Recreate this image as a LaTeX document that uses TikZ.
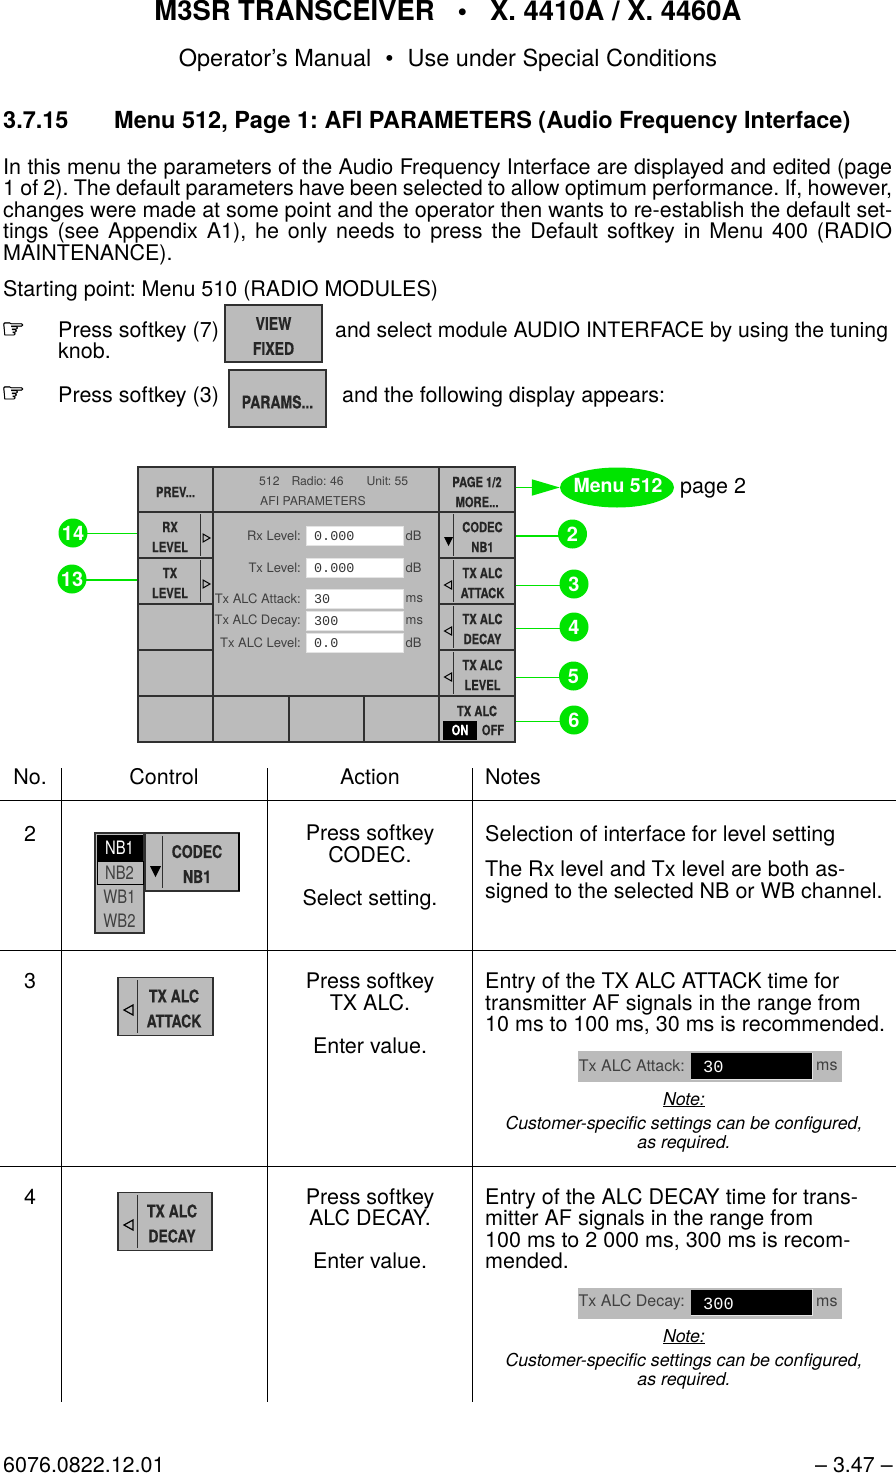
\documentclass[tikz,border=0pt]{standalone}
\usepackage{fontspec}
\setmainfont{TeX Gyre Heros}
\newfontfamily\keyfont[FakeStretch=0.8,BoldFeatures={FakeBold=0.5}]{TeX Gyre Heros}
\newfontfamily\screenmono{Liberation Mono}
\newfontfamily\symfont[FakeBold=1.5]{DejaVu Sans}
\usetikzlibrary{arrows.meta,shapes.geometric}
\definecolor{keygray}{HTML}{BBBBBB}
\definecolor{keyedge}{HTML}{303030}
\definecolor{keylight}{HTML}{E4E4E4}
\definecolor{signgreen}{HTML}{00E400}
\def\fsize#1#2{\fontsize{#1}{#2}\selectfont}
\tikzset{
	softkey/.style={draw=keyedge, fill=keygray, line width=1.2pt, inner sep=0pt, minimum width=#1, minimum height=46pt,
		path picture={\draw[keylight, line width=1.6pt] (path picture bounding box.south west) -- (path picture bounding box.north west) -- (path picture bounding box.north east);}},
	softkey/.default=76pt,
	keylabel/.style={font=\keyfont\bfseries\fsize{14}{20}, align=center, inner sep=0pt, text=black!85},
	biglabel/.style={font=\keyfont\bfseries\fsize{17.5}{25}, align=center, inner sep=0pt, text=black!85},
	keydiv/.style={draw=keyedge, line width=0.9pt},
	openmark/.style={draw=black, line width=1pt},
	screentxt/.style={font=\fsize{13}{16}, inner sep=0pt, text=black!75},
	fieldbox/.style={draw=keylight, fill=white, line width=1pt, inner sep=0pt, minimum width=97pt, minimum height=19pt,
		path picture={\draw[black!65, line width=1.6pt] (path picture bounding box.south west) -- (path picture bounding box.north west) -- (path picture bounding box.north east);}},
	fieldval/.style={font=\screenmono\fsize{13.4}{16}, inner sep=0pt, anchor=west, text=black!80},
	stripfield/.style={fill=black, inner sep=0pt, minimum width=121pt, minimum height=26pt},
	conn/.style={draw=signgreen, line width=1.1pt},
	badge/.style={circle, fill=signgreen, inner sep=0pt, minimum size=29pt, text=white, font=\bfseries\fsize{20}{20}},
	bodytxt/.style={font=\fsize{21.5}{21.5}, anchor=base west, align=left, inner sep=0pt},
	ctrtxt/.style={font=\fsize{21.5}{21.5}, anchor=base, align=center, inner sep=0pt},
	notetxt/.style={font=\itshape\fsize{17.75}{18.2}, anchor=base, align=center, inner sep=0pt},
	rowrule/.style={line width=0.9pt},
}
\begin{document}
\frenchspacing
\begin{tikzpicture}[x=1pt, y=-1pt]
	\useasboundingbox (0,0) rectangle (896,1474);
	
	%%%%% HEADER %%%%%
	\node[font=\bfseries\fsize{27.4}{27.4}, anchor=base, inner sep=0pt] (title) at (448,21) {M3SR TRANSCEIVER\hspace{23pt}•\hspace{23pt}X. 4410A / X. 4460A};
	\node[font=\fsize{23.5}{23.5}, anchor=base, inner sep=0pt] (subtitle) at (448,66.5) {Operator’s Manual\hspace{14pt}•\hspace{14pt}Use under Special Conditions};
	\node[font=\bfseries\fsize{23.5}{23.5}, anchor=base west, inner sep=0pt] (secno) at (3,128.5) {3.7.15};
	\node[font=\bfseries\fsize{23.5}{23.5}, anchor=base west, inner sep=0pt] (sechead) at (114,128.5) {Menu 512, Page 1: AFI PARAMETERS (Audio Frequency Interface)};
	
	\node[bodytxt, text width=889pt, align=justify] (intro) at (3,174.5) {\sloppy In this menu the parameters of the Audio Frequency Interface are displayed and edited (page\linebreak
		1 of 2). The default parameters have been selected to allow optimum performance. If, however,\linebreak
		changes were made at some point and the operator then wants to re-establish the default set-\linebreak
		tings (see Appendix A1), he only needs to press the Default softkey in Menu 400 (RADIO\linebreak
		MAINTENANCE).};
	\node[bodytxt] (startpt) at (3,296) {Starting point: Menu 510 (RADIO MODULES)};
	
	\node[font=\symfont\fsize{27}{27}, anchor=base west, inner sep=0pt] (handa) at (1,338) {☞};
	\node[bodytxt] (stepa) at (58,337) {Press softkey (7)};
	\node[bodytxt, font=\fsize{21.25}{21.5}] (stepaend) at (335,337) {and select module AUDIO INTERFACE by using the tuning};
	\node[bodytxt] (knob) at (58,358) {knob.};
	\node[softkey=97pt, minimum height=57pt] (keyview) at (273.5,333.5) {};
	\node[biglabel] (labview) at (273.5,336) {VIEW\\FIXED};
	
	\node[font=\symfont\fsize{27}{27}, anchor=base west, inner sep=0pt] (handb) at (1,402) {☞};
	\node[bodytxt] (stepb) at (58,402) {Press softkey (3)};
	\node[bodytxt] (stepbend) at (342,402) {and the following display appears:};
	\node[softkey=97pt, minimum height=57pt] (keyparams) at (277.5,398.5) {};
	\node[biglabel] (labparams) at (277.5,402) {PARAMS...};
	
	%%%%% PANEL %%%%%
	\node[softkey=75pt, minimum height=45pt] (keyprev) at (175.5,489.5) {};
	\node[keylabel] (labprev) at (175.5,492) {PREV...};
	\node[softkey=226pt, minimum height=45pt] (display) at (326,489.5) {};
	\node[screentxt, font=\fsize{12.2}{16}, anchor=base west] (dispa) at (259,485) {512\hspace{12pt}Radio: 46\hspace{23pt}Unit: 55};
	\node[screentxt, font=\fsize{12.2}{16}, anchor=base west] (dispb) at (260,505) {AFI PARAMETERS};
	\node[softkey=76pt, minimum height=45pt] (keypage) at (477,489.5) {};
	\node[keylabel] (labpage) at (477,492) {PAGE 1/2\\MORE...};
	
	\node[softkey=226pt, minimum height=184pt] (midarea) at (326,604) {};
	
	\foreach \nm/\cy/\lab in {rx/535/{RX\\LEVEL},tx/581/{TX\\LEVEL}}{
		\node[softkey=75pt] (key\nm) at (175.5,\cy) {};
		\node[keylabel] (lab\nm) at (170,\cy+2) {\lab};
		\draw[keydiv] (200.5,\cy-21) -- (200.5,\cy+21);
		\draw[openmark] (210,\cy+3) -- (203,\cy-1) -- (203,\cy+7) -- cycle;
	}
	\node[softkey=75pt] (keyempa) at (175.5,627) {};
	\node[softkey=75pt] (keyempb) at (175.5,673) {};
	
	\foreach \nm/\cy/\lab in {codec/535/{CODEC\\NB1},attack/581/{TX ALC\\ATTACK},decay/627/{TX ALC\\DECAY},level/673/{TX ALC\\LEVEL}}{
		\node[softkey] (key\nm) at (477,\cy) {};
		\node[keylabel] (lab\nm) at (482.5,\cy+2) {\lab};
		\draw[keydiv] (453.5,\cy-21) -- (453.5,\cy+21);
	}
	\fill[black] (444,537) -- (453,537) -- (448.5,546) -- cycle;
	\foreach \cy in {581,627,673}
		\draw[openmark] (444.5,\cy+4) -- (451.5,\cy) -- (451.5,\cy+8) -- cycle;
	
	\foreach \nm/\cx/\bw in {a/175.5/75,b/251/76,c/326.5/75,d/401.5/75}
		\node[softkey=\bw pt] (keybot\nm) at (\cx,719) {};
	\node[softkey] (keyonoff) at (477,719) {};
	\node[keylabel] (labonoff) at (477,711) {TX ALC};
	\node[fill=black, text=white, font=\keyfont\bfseries\fsize{14}{14}, inner sep=0pt, minimum width=34pt, minimum height=19pt] (onbox) at (460,730) {ON};
	\node[keylabel] (laboff) at (493,730) {OFF};
	
	\foreach \nm/\cy/\lab/\val/\un in {rxl/535.5/Rx Level:/0.000/dB,txl/567.5/Tx Level:/0.000/dB,att/599/Tx ALC Attack:/30/ms,dec/621/Tx ALC Decay:/300/ms,lev/642.5/Tx ALC Level:/0.0/dB}{
		\node[fieldbox] (field\nm) at (354.5,\cy) {};
		\node[screentxt, anchor=east] (name\nm) at (301,\cy) {\lab};
		\node[fieldval] (val\nm) at (314,\cy+0.5) {\val};
		\node[screentxt, anchor=west] (unit\nm) at (405.5,\cy) {\un};
	}
	
	%%%%% SIGNS %%%%%
	\node[ellipse, fill=signgreen, inner sep=0pt, minimum width=114pt, minimum height=40pt] (menu) at (617,487.5) {};
	\node[text=white, font=\bfseries\fsize{19.5}{19.5}, inner sep=0pt] (menulab) at (618,485) {Menu 512};
	\node[font=\fsize{21.5}{21.5}, anchor=base west, inner sep=0pt] (pagetwo) at (680,493) {page 2};
	\draw[conn, line width=1.8pt, -{Triangle[length=28pt, width=16pt]}] (menu -| keypage.east) -- (menu);
	
	\foreach \nm/\cx/\cy/\ly/\num/\tgt in {b/572.5/534/536/2/keycodec.east,c/574/584/585.5/3/keyattack.east,d/574/627/628.5/4/keydecay.east,e/573.5/676/677.5/5/keylevel.east,f/574/720/721.5/6/keyonoff.east,n/73/533/533.5/14/keyrx.west,m/72/579/580/13/keytx.west}{
		\coordinate (tip\nm) at (\cx,\ly);
		\draw[conn] (tip\nm) -- (tip\nm -| \tgt);
		\node[badge] (sign\nm) at (\cx,\cy) {\num};
	}
	
	%%%%% TABLE %%%%%
	\node[ctrtxt] (hdno) at (30,784) {No.};
	\node[ctrtxt] (hdctl) at (164,784) {Control};
	\node[ctrtxt] (hdact) at (370,784) {Action};
	\node[bodytxt] (hdnot) at (485,784) {Notes};
	
	\foreach \xx in {61,267,472}
		\draw[rowrule] (\xx,768) -- (\xx,1402);
	\draw[rowrule, line width=1.3pt] (0,800.5) -- (896,800.5);
	\draw[rowrule] (0,950) -- (896,950);
	\draw[rowrule] (0,1166) -- (896,1166);
	
	% row 2
	\node[ctrtxt] (nob) at (30,841) {2};
	\node[ctrtxt] (actb) at (370,905) {Press softkey\\CODEC.\\[21.5pt]Select setting.};
	\node[bodytxt] (notba) at (485,841) {Selection of interface for level setting};
	\node[bodytxt] (notbb) at (485,898) {The Rx level and Tx level are both as-\\signed to the selected NB or WB channel.};
	
	\node[softkey=49pt, minimum height=100pt] (codlist) at (119.5,883) {};
	\fill[black] (96.5,835) rectangle (143,861);
	\draw[black, line width=1pt] (97,861) rectangle (143,884);
	\foreach \nm/\cy/\lab/\col in {a/848/NB1/white,b/872.5/NB2/black!75,c/897/WB1/black!75,d/921/WB2/black!75}
		\node[font=\keyfont\fsize{18.5}{18.5}, inner sep=0pt, text=\col] (cod\nm) at (119.5,\cy) {\lab};
	\node[softkey=94pt, minimum height=58pt] (ctlcodec) at (192,862) {};
	\draw[black, line width=2pt] (239,833) -- (239,891);
	\draw[keydiv] (162,836) -- (162,888);
	\fill[black] (150,866) -- (161,866) -- (155.5,877) -- cycle;
	\node[biglabel] (labctlcodec) at (197,864) {CODEC\\NB1};
	
	% row 3
	\node[ctrtxt] (noc) at (30,988) {3};
	\node[ctrtxt] (actc) at (370,1053) {Press softkey\\TX ALC.\\[21.5pt]Enter value.};
	\node[bodytxt] (notc) at (485,1031.5) {Entry of the TX ALC ATTACK time for\\transmitter AF signals in the range from\\10 ms to 100 ms, 30 ms is recommended.};
	
	\node[softkey=95pt, minimum height=58pt] (ctlattack) at (165.5,1006.5) {};
	\draw[keydiv] (137,980) -- (137,1033);
	\draw[openmark, line width=1.2pt] (124,1010) -- (133,1005) -- (133,1015) -- cycle;
	\node[biglabel] (labctlattack) at (174,1008.5) {TX ALC\\ATTACK};
	
	\node[fill=keygray, inner sep=0pt, minimum width=264pt, minimum height=31pt] (stripc) at (710,1066.5) {};
	\node[stripfield] (fldc) at (751.5,1066) {};
	\draw[keylight, line width=1.2pt] (fldc.south west) -- (fldc.south east) -- (fldc.north east);
	\node[font=\fsize{16}{16}, inner sep=0pt, anchor=east, text=black!75] (namec) at (685,1066) {Tx ALC Attack:};
	\node[font=\screenmono\fsize{17}{17}, inner sep=0pt, anchor=west, text=white] (valc) at (703,1067) {30};
	\node[font=\fsize{16}{16}, inner sep=0pt, anchor=west, text=black!75] (unitc) at (816,1066) {ms};
	\node[notetxt] (notehc) at (684,1105) {\underline{Note:}};
	\node[notetxt] (notec) at (684,1148) {Customer-specific settings can be configured,\\as required.};
	
	% row 4
	\node[ctrtxt] (nod) at (30,1204) {4};
	\node[ctrtxt] (actd) at (370,1268.5) {Press softkey\\ALC DECAY.\\[21.5pt]Enter value.};
	\node[bodytxt] (notd) at (485,1268.5) {Entry of the ALC DECAY time for trans-\\mitter AF signals in the range from\\100 ms to 2 000 ms, 300 ms is recom-\\mended.};
	
	\node[softkey=94pt, minimum height=58pt] (ctldecay) at (165,1221.5) {};
	\draw[keydiv] (137,1195) -- (137,1248);
	\draw[openmark, line width=1.2pt] (124,1225) -- (133,1220) -- (133,1230) -- cycle;
	\node[biglabel] (labctldecay) at (172,1223.5) {TX ALC\\DECAY};
	
	\node[fill=keygray, inner sep=0pt, minimum width=264pt, minimum height=31pt] (stripd) at (710,1303) {};
	\node[stripfield] (fldd) at (751.5,1302.5) {};
	\draw[keylight, line width=1.2pt] (fldd.south west) -- (fldd.south east) -- (fldd.north east);
	\node[font=\fsize{16}{16}, inner sep=0pt, anchor=east, text=black!75] (named) at (685,1302.5) {Tx ALC Decay:};
	\node[font=\screenmono\fsize{17}{17}, inner sep=0pt, anchor=west, text=white] (vald) at (703,1303.5) {300};
	\node[font=\fsize{16}{16}, inner sep=0pt, anchor=west, text=black!75] (unitd) at (816,1302.5) {ms};
	\node[notetxt] (notehd) at (684,1342) {\underline{Note:}};
	\node[notetxt] (noted) at (684,1385) {Customer-specific settings can be configured,\\as required.};
	
	%%%%% FOOTER %%%%%
	\node[bodytxt] (docno) at (3,1472.5) {6076.0822.12.01};
	\node[font=\fsize{21.5}{21.5}, anchor=base east, inner sep=0pt] (pageno) at (893,1472.5) {– 3.47 –};
\end{tikzpicture}
\end{document}
